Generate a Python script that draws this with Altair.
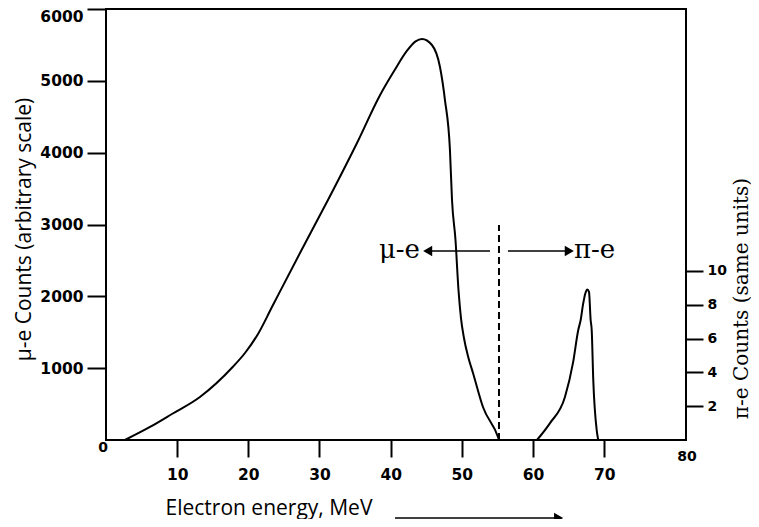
import altair as alt
import pandas as pd

# mu-e spectrum (left axis, arbitrary scale)
mu_energy = [2.67, 6.18, 9.27, 13.2, 17.8, 19.53, 21.36, 23.32, 27.26, 31.19, 35.27, 38.5, 40.5,
             42.3, 43.5, 44.40, 45.8, 46.93, 47.63, 48.33, 48.62, 49.11, 49.53, 49.88, 50.30,
             50.86, 51.57, 52.97, 55.08, 55.22]
mu_counts = [0, 181, 362, 599, 1016, 1211, 1476, 1851, 2603, 3341, 4135, 4800, 5140,
             5420, 5550, 5583, 5499, 5193, 4733, 4037, 3341, 2784, 2088, 1698, 1420,
             1169, 933, 459, 42, 0]

# pi-e peak (right axis, same units)
pi_energy = [60.56, 62.39, 64.49, 65.62, 66.36, 66.70, 67.02, 67.37, 67.63, 67.87, 68.10,
             68.25, 68.47, 68.95, 69.17]
pi_counts = [0, 1.0, 2.54, 4.56, 6.51, 7.10, 7.99, 8.70, 8.91, 8.76, 7.10,
             6.51, 3.55, 0.59, 0]

# ticks
x_ticks = [10, 20, 30, 40, 50, 60, 70]
left_ticks = [1000, 2000, 3000, 4000, 5000, 6000]
right_ticks = [2, 4, 6, 8, 10]

# separator and annotations
sep_energy = [55.22]
sep_top = [2993]
ann_y = [2631]
left_arrow = [53.96, 45.2]       # shaft start, head
right_arrow = [56.48, 65.1]      # shaft start, head
ann_text = ["μ-e", "π-e"]
ann_x = [44.12, 65.76]
bottom_arrow = [40.61, 63.6]
corner_text = ["0", "80"]
corner_x = [-0.42, 81.64]
corner_py = [439, 448]

X_DOM = [0, 81.5]
Y_DOM = [0, 6000]
R_DOM = [0, 25.5]

X_AXIS = alt.Axis(values=x_ticks, title="Electron energy, MeV", domain=False, grid=False,
                  tickSize=17, tickWidth=2, tickColor="black", labelPadding=10,
                  labelFont="DejaVu Sans", labelFontSize=15.5, labelFontWeight="bold",
                  labelColor="black",
                  titleFont="Open Sans", titleFontSize=21, titleFontWeight="normal",
                  titleColor="black", titleAlign="left", titleAnchor="start",
                  titleX=59, titleY=74, titleBaseline="alphabetic")


def xs(f):
    return alt.X(f, type="quantitative", scale=alt.Scale(domain=X_DOM, nice=False, zero=False),
                 axis=X_AXIS)


def ys(f):
    return alt.Y(f, type="quantitative", scale=alt.Scale(domain=Y_DOM, nice=False), axis=None)


mu_df = pd.DataFrame({"E": mu_energy, "C": mu_counts})
pi_df = pd.DataFrame({"E": pi_energy, "C": pi_counts})

mu_line = alt.Chart(mu_df).mark_line(color="black", strokeWidth=2, interpolate="monotone").encode(
    x=xs("E"),
    y=alt.Y("C:Q", scale=alt.Scale(domain=Y_DOM, nice=False),
            axis=alt.Axis(orient="left", values=left_ticks, format="d",
                          title="μ-e Counts (arbitrary scale)",
                          domain=False, grid=False,
                          tickSize=19, tickWidth=2, tickColor="black", labelPadding=4,
                          labelOffset={"condition": {"test": "datum.value == 6000", "value": 7},
                                       "value": 0},
                          labelFont="DejaVu Sans", labelFontSize=15.5, labelFontWeight="bold",
                          labelColor="black",
                          titleFont="Open Sans", titleFontSize=21, titleFontWeight="normal",
                          titleColor="black", titleAngle=270, titleX=-82, titleY=220,
                          titleBaseline="middle", titleAlign="center")),
)

sep_df = pd.DataFrame({"E": sep_energy, "top": sep_top, "bot": [0]})
sep = alt.Chart(sep_df).mark_rule(color="black", strokeWidth=2, strokeDash=[7, 4]).encode(
    x=xs("E"), y=ys("bot"), y2="top:Q")

arrows_df = pd.DataFrame({"E": [left_arrow[0], right_arrow[0]], "b": [left_arrow[1], right_arrow[1]],
                          "y": [ann_y[0], ann_y[0]]})
arrow_shafts = alt.Chart(arrows_df).mark_rule(color="black", strokeWidth=1.5).encode(
    x=xs("E"), x2="b:Q", y=ys("y"))

heads_df = pd.DataFrame({"E": [left_arrow[1], right_arrow[1]], "y": [ann_y[0], ann_y[0]],
                         "shape": ["triangle-left", "triangle-right"]})
heads = alt.Chart(heads_df).mark_point(filled=True, color="black", size=110, opacity=1).encode(
    x=xs("E"), y=ys("y"), shape=alt.Shape("shape:N", scale=None, legend=None))

txt_df = pd.DataFrame({"E": ann_x, "y": ann_y * 2, "t": ann_text})
txt_l = alt.Chart(txt_df.iloc[[0]]).mark_text(font="DejaVu Serif", fontSize=26, align="right",
                                               baseline="middle", color="black", dy=-1).encode(
    x=xs("E"), y=ys("y"), text="t:N")
txt_r = alt.Chart(txt_df.iloc[[1]]).mark_text(font="DejaVu Serif", fontSize=26, align="left",
                                               baseline="middle", color="black", dy=-1).encode(
    x=xs("E"), y=ys("y"), text="t:N")

bot_df = pd.DataFrame({"E": [bottom_arrow[0]], "b": [bottom_arrow[1]]})
bot_shaft = alt.Chart(bot_df).mark_rule(color="black", strokeWidth=1.5).encode(
    x=xs("E"), x2="b:Q", y=alt.value(509))
bot_head = alt.Chart(pd.DataFrame({"E": [bottom_arrow[1]]})).mark_point(
    filled=True, color="black", size=110, opacity=1, shape="triangle-right").encode(
    x=xs("E"), y=alt.value(509))

corner_df = pd.DataFrame({"E": corner_x, "t": corner_text})
corner0 = alt.Chart(corner_df.iloc[[0]]).mark_text(font="DejaVu Sans", fontSize=14, fontWeight="bold",
                                                   color="black", baseline="middle").encode(
    x=xs("E"), y=alt.value(corner_py[0]), text="t:N")
corner80 = alt.Chart(corner_df.iloc[[1]]).mark_text(font="DejaVu Sans", fontSize=14, fontWeight="bold",
                                                    color="black", baseline="middle").encode(
    x=xs("E"), y=alt.value(corner_py[1]), text="t:N")

pi_line = alt.Chart(pi_df).mark_line(color="black", strokeWidth=2, interpolate="monotone").encode(
    x=xs("E"),
    y=alt.Y("C:Q", scale=alt.Scale(domain=R_DOM, nice=False),
            axis=alt.Axis(orient="right", values=right_ticks, title="π-e Counts (same units)",
                          domain=False, grid=False, tickSize=17, tickWidth=2, tickColor="black",
                          labelPadding=4, labelFont="DejaVu Sans", labelFontSize=14,
                          labelFontWeight="bold",
                          labelColor="black", titleFont="DejaVu Serif", titleFontSize=20,
                          titleFontWeight="normal", titleColor="black", titleAngle=270,
                          titleX=55, titleY=289, titleBaseline="middle", titleAlign="center")),
)

chart = alt.layer(mu_line, sep, arrow_shafts, heads, txt_l, txt_r, bot_shaft, bot_head,
                  corner0, corner80, pi_line).resolve_scale(y="independent").properties(
    width=580, height=431,
    autosize=alt.AutoSizeParams(type="none"),
    padding={"left": 98, "top": 1, "right": 65, "bottom": 79},
    background="white",
).configure_view(stroke="black", strokeWidth=2)

chart.save("out.html", embed_options={"renderer": "svg", "actions": False})
